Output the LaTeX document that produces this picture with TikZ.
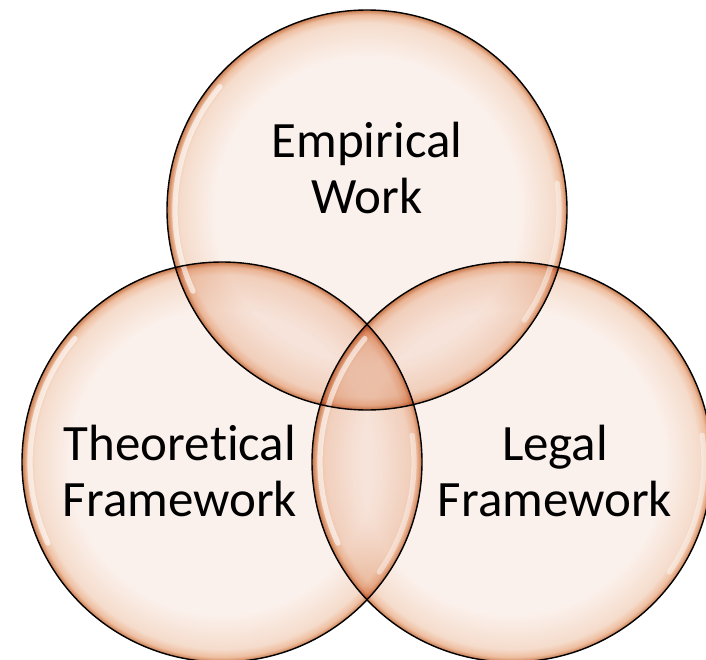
\documentclass[tikz,border=0pt]{standalone}
\usepackage{fontspec}
\setmainfont{Carlito}[Ligatures=NoCommon]
\usetikzlibrary{positioning}

\definecolor{bubblein}{RGB}{251,241,236}
\definecolor{bubblemid}{RGB}{245,220,204}
\definecolor{bubblelight}{RGB}{238,190,160}
\definecolor{bubblerim}{RGB}{200,122,76}

\pgfdeclareradialshading{bubbleshade}{\pgfpoint{0bp}{0bp}}{%
  color(0bp)=(bubblein); color(19bp)=(bubblein); color(23.4bp)=(bubblemid);
  color(24.4bp)=(bubblelight); color(25bp)=(bubblerim); color(50bp)=(bubblerim)}

\begin{document}
\begin{tikzpicture}[
    bubble/.style={shading=bubbleshade},
    rimline/.style={draw=black, line width=0.8pt},
    gloss/.style={draw=white, line width=3pt, line cap=round, opacity=0.6},
    bubbletext/.style={font=\fontsize{29}{32}\selectfont, align=center, inner sep=0pt}
]
\useasboundingbox (0,0) rectangle (14.12,13.18);

% centres of the three circles
\coordinate (empirical) at (7.34,8.98);
\coordinate (theory) at (4.44,3.94);
\coordinate (legal) at (10.24,3.94);

\begin{scope}[blend mode=multiply]
    \foreach \c in {empirical,theory,legal}
        \shade[bubble] (\c) circle (4);
\end{scope}

% glossy highlights
\foreach \c in {empirical,theory,legal} {
    \draw[gloss] ([shift={(140:3.84)}]\c) arc (140:205:3.84);
    \draw[gloss, opacity=0.45] ([shift={(-35:3.84)}]\c) arc (-35:8:3.84);
}

\foreach \c in {empirical,theory,legal}
    \draw[rimline] (\c) circle (4);

\node[bubbletext] (empiricaltext) at (7.34,9.82) {Empirical\\Work};
\node[bubbletext] (theorytext) at (3.6,3.76) {Theoretical\\Framework};
\node[bubbletext] (legaltext) at (11.1,3.76) {Legal\\Framework};
\end{tikzpicture}
\end{document}
